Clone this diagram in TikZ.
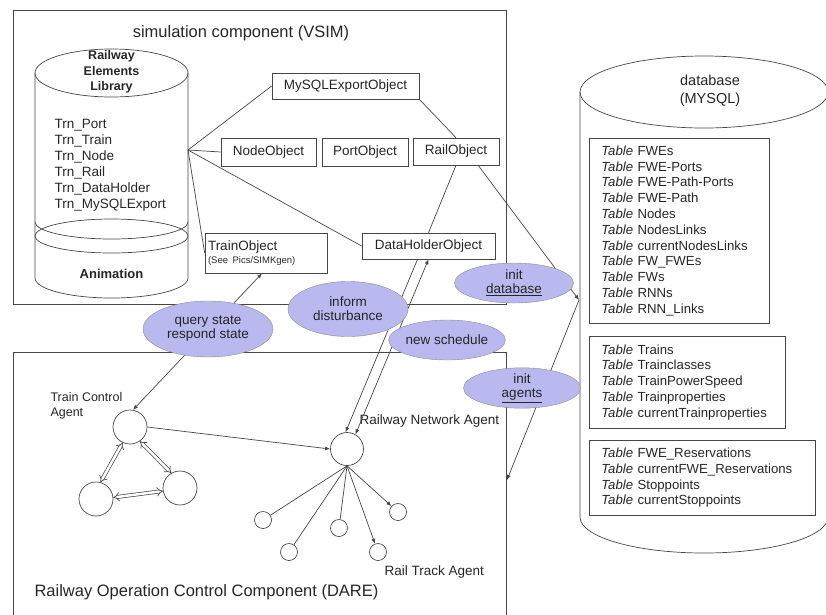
\documentclass[tikz,border=0pt]{standalone}
\usepackage{fontspec}
\setmainfont{Liberation Sans}
\usetikzlibrary{shapes.geometric,arrows.meta}

\definecolor{msgblue}{RGB}{185,185,240}
\definecolor{linegray}{RGB}{70,70,70}

\newcommand{\tabrow}[1]{\textit{Table} #1}

\begin{document}
\begin{tikzpicture}[x=1pt, y=-1pt,
    every node/.append style={text=black!85},
    conn/.style={draw=linegray, line width=0.7pt},
    tip/.style={-{Latex[length=5pt,width=4pt]}},
    bitip/.style={{Latex[length=5pt,width=4pt]}-{Latex[length=5pt,width=4pt]}},
    obj/.style={draw=linegray, line width=0.7pt, rectangle, inner sep=2pt, font=\fontsize{13.5}{15}\selectfont},
    msg/.style={ellipse, draw=black!45, fill=msgblue, align=center, inner sep=0pt, font=\fontsize{13.5}{14}\selectfont},
    agent/.style={circle, draw=linegray, line width=0.7pt, minimum size=34pt, inner sep=0pt},
    track/.style={circle, draw=linegray, line width=0.7pt, minimum size=17pt, inner sep=0pt},
    tbl/.style={draw=linegray, line width=0.7pt, anchor=north west, align=left, inner xsep=12pt, inner ysep=0pt, font=\fontsize{13.2}{15.8}\selectfont},
    lbl/.style={font=\fontsize{13.5}{15}\selectfont},
    ]
    \useasboundingbox (0,0) rectangle (826,614);

    % Frames
    \draw[conn] (13,10) rectangle (506,304);
    \draw[conn] (13,620) -- (13,352) -- (506,352) -- (506,620);
    \node[font=\fontsize{16.5}{18}\selectfont] (simtitle) at (241,33) {simulation component (VSIM)};
    \node[anchor=west, font=\fontsize{16.5}{18}\selectfont] (daretitle) at (31,592) {Railway Operation Control Component (DARE)};

    % Railway elements library
    \draw[conn] (111.5,73) ellipse [x radius=76.5pt, y radius=24pt];
    \draw[conn] (35,73) -- (35,278) arc[start angle=180, end angle=360, x radius=76.5pt, y radius=20pt] -- (188,73);
    \draw[conn] (111.5,236) ellipse [x radius=76.5pt, y radius=17pt];
    \draw[conn] (35,222) arc[start angle=180, end angle=360, x radius=76.5pt, y radius=17pt];
    \node[align=center, font=\bfseries\fontsize{12.5}{15.5}\selectfont] (libtitle) at (111.5,72) {Railway\\Elements\\Library};
    \node[anchor=north west, align=left, font=\fontsize{13.5}{16}\selectfont] (liblist) at (51,116)
        {Trn\_Port\\Trn\_Train\\Trn\_Node\\Trn\_Rail\\Trn\_DataHolder\\Trn\_MySQLExport};
    \node[font=\bfseries\fontsize{13}{14}\selectfont] (anim) at (111.5,274) {Animation};
    \coordinate (libout) at (188,150);

    % Database
    \draw[conn] (704,92) ellipse [x radius=124pt, y radius=36pt];
    \draw[conn] (580,92) -- (580,517) arc[start angle=180, end angle=360, x radius=124pt, y radius=36pt] -- (828,92);
    \node[align=center, font=\fontsize{14.5}{18}\selectfont] (dbtitle) at (710,91) {database\\(MYSQL)};
    \coordinate (dbin) at (579,300);
    \node[tbl, minimum width=180pt, minimum height=185pt, text width=156pt] (tbl1) at (589,138)
        {\tabrow{FWEs}\\\tabrow{FWE-Ports}\\\tabrow{FWE-Path-Ports}\\\tabrow{FWE-Path}\\\tabrow{Nodes}\\\tabrow{NodesLinks}\\\tabrow{currentNodesLinks}\\\tabrow{FW\_FWEs}\\\tabrow{FWs}\\\tabrow{RNNs}\\\tabrow{RNN\_Links}};
    \node[tbl, minimum width=196pt, minimum height=92pt, text width=172pt] (tbl2) at (589,336)
        {\tabrow{Trains}\\\tabrow{Trainclasses}\\\tabrow{TrainPowerSpeed}\\\tabrow{Trainproperties}\\\tabrow{currentTrainproperties}};
    \node[tbl, minimum width=226pt, minimum height=75pt, text width=202pt] (tbl3) at (589,440)
        {\tabrow{FWE\_Reservations}\\\tabrow{currentFWE\_Reservations}\\\tabrow{Stoppoints}\\\tabrow{currentStoppoints}};

    % Simulation objects
    \node[obj, minimum width=147pt, minimum height=26pt] (mysqlobj) at (345.5,86) {MySQLExportObject};
    \node[obj, minimum width=95pt, minimum height=28pt] (nodeobj) at (268.5,152) {NodeObject};
    \node[obj, minimum width=86pt, minimum height=28pt] (portobj) at (365,152) {PortObject};
    \node[obj, minimum width=86pt, minimum height=27pt] (railobj) at (456,151.5) {RailObject};
    \node[obj, minimum height=40pt, inner xsep=3pt, text width=116pt, align=left] (trainobj) at (266,253)
        {TrainObject\\[-2pt]{\fontsize{9.5}{10}\selectfont (See Pics/SIMKgen)}};
    \node[obj, minimum width=133pt, minimum height=26pt] (dataobj) at (428.5,246) {DataHolderObject};

    % Agents
    \node[agent] (tca) at (130,427) {};
    \node[agent] (tcb) at (96,499) {};
    \node[agent] (tcc) at (180,488) {};
    \node[agent, minimum size=33pt] (rna) at (347,449) {};
    \node[track] (rt1) at (263,520) {};
    \node[track] (rt2) at (289,552) {};
    \node[track] (rt3) at (339,528) {};
    \node[track] (rt4) at (378,552) {};
    \node[track] (rt5) at (398,512) {};
    \node[anchor=west, align=left, font=\fontsize{12.5}{15}\selectfont] (tcalabel) at (47,405.5) {Train Control\\Agent};
    \node[anchor=west, lbl] (rnalabel) at (356,421) {Railway Network Agent};
    \node[anchor=west, lbl] (rtlabel) at (381,572) {Rail Track Agent};
    \coordinate (dareedge) at (507,480);

    % Connectors
    \draw[conn] (libout) -- (mysqlobj.west);
    \draw[conn] (libout) -- (nodeobj.west);
    \draw[conn] (libout) -- (trainobj.west);
    \draw[conn] (libout) -- (dataobj.west);
    \draw[conn] (mysqlobj.south east) -- (railobj.north);
    \draw[conn] (railobj.south) -- (dataobj.north);
    \draw[conn, tip] (railobj.-32) -- (dbin);
    \draw[conn, tip] (dbin) -- (dareedge);
    \draw[conn, bitip] ([xshift=-4pt]trainobj.south) -- (tca.80);
    \draw[conn, tip] ([xshift=-11pt]dataobj.south) -- (rna.95);
    \draw[conn, bitip] (dataobj.south) -- (rna.60);
    \draw[conn, tip] (tca.east) -- (rna.west);
    \draw[conn, double, double distance=2.5pt, {Implies}-{Implies}] (tca.245) -- (tcb.75);
    \draw[conn, double, double distance=2.5pt, {Implies}-{Implies}] (tca.-55) -- (tcc.120);
    \draw[conn, double, double distance=2.5pt, {Implies}-{Implies}] (tcb.5) -- (tcc.190);
    \draw[conn] (rna.south) -- (rt1);
    \draw[conn] (rna.south) -- (rt2);
    \draw[conn] (rna.south) -- (rt3);
    \draw[conn, tip] (rna.south) -- (rt4);
    \draw[conn, tip] (rna.south) -- (rt5);

    % Messages
    \node[msg, minimum width=130pt, minimum height=56pt] (query) at (208,329) {query state\\respond state};
    \node[msg, minimum width=120pt, minimum height=55pt] (inform) at (348,309) {inform\\disturbance};
    \node[msg, minimum width=116pt, minimum height=40pt] (newsched) at (447,340) {new schedule};
    \node[msg, minimum width=119pt, minimum height=40pt] (initdb) at (514,283) {init\\\underline{database}};
    \node[msg, minimum width=117pt, minimum height=40pt] (initag) at (522,388) {init\\\underline{agents}};
\end{tikzpicture}
\end{document}
